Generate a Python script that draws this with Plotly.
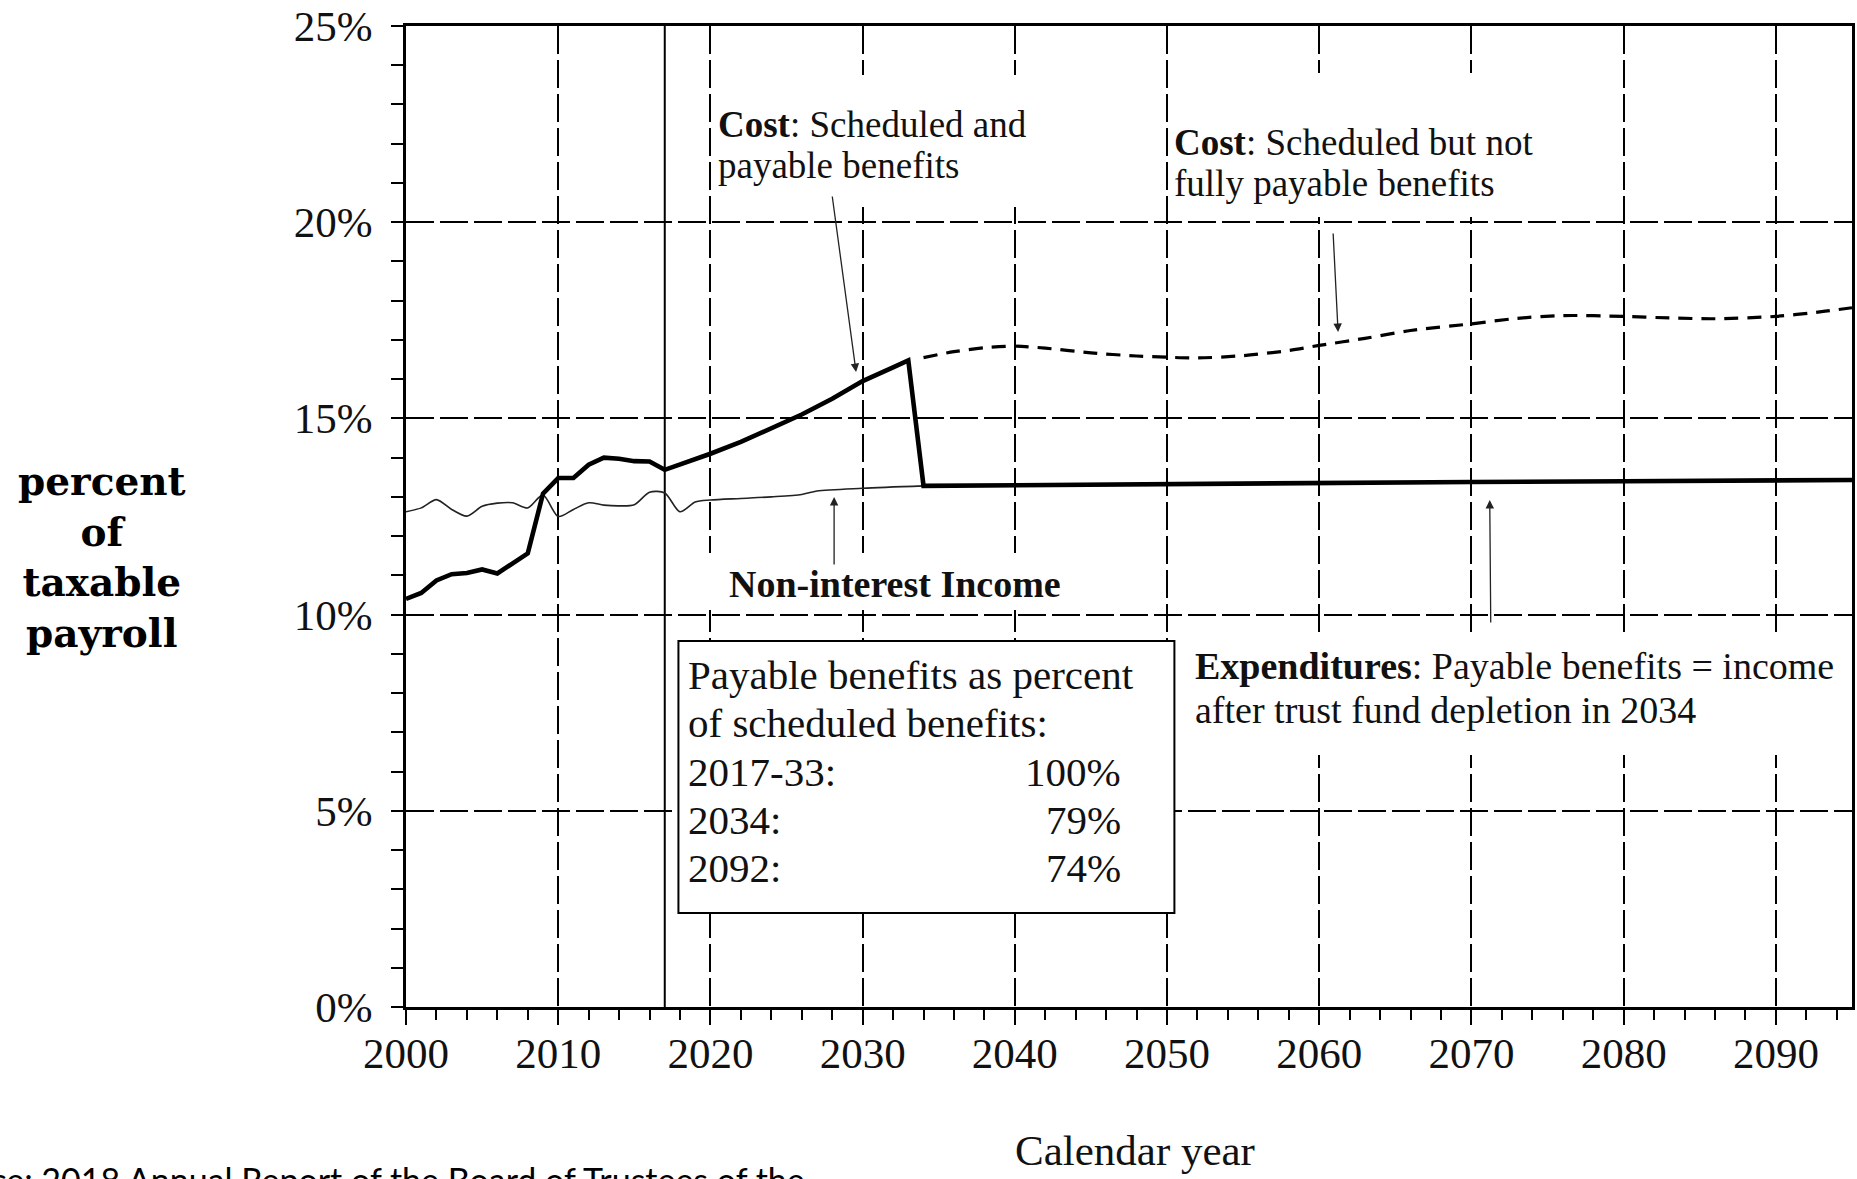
import plotly.graph_objects as go

# ---------------- data ----------------
exp_years = [2000, 2001, 2002, 2003, 2004, 2005, 2006, 2007, 2008, 2009,
             2010, 2011, 2012, 2013, 2014, 2015, 2016, 2017, 2018, 2019,
             2020, 2022, 2024, 2026, 2028, 2030, 2032, 2033, 2034,
             2040, 2050, 2060, 2070, 2080, 2090, 2095]
exp_values = [10.40, 10.55, 10.87, 11.03, 11.06, 11.15, 11.05, 11.30, 11.56, 13.08,
              13.48, 13.48, 13.82, 14.00, 13.97, 13.91, 13.90, 13.69, 13.82, 13.95,
              14.10, 14.40, 14.74, 15.10, 15.50, 15.95, 16.30, 16.48, 13.28,
              13.30, 13.32, 13.35, 13.38, 13.40, 13.42, 13.43]

income_years = [2000, 2001, 2002, 2003, 2004, 2005, 2006, 2007, 2008, 2009,
                2010, 2011, 2012, 2013, 2014, 2015, 2016, 2017, 2018, 2019,
                2020, 2022, 2024, 2026, 2027, 2030, 2034]
income_values = [12.62, 12.72, 12.93, 12.68, 12.51, 12.76, 12.84, 12.85, 12.72, 13.05,
                 12.50, 12.68, 12.85, 12.79, 12.77, 12.80, 13.12, 13.10, 12.62, 12.87,
                 12.92, 12.96, 13.00, 13.06, 13.15, 13.22, 13.28]

sched_years = [2034, 2036, 2038, 2040, 2042, 2045, 2048, 2050, 2052, 2055, 2058,
               2060, 2063, 2066, 2070, 2073, 2076, 2080, 2083, 2086, 2090, 2093, 2095]
sched_values = [16.55, 16.70, 16.80, 16.84, 16.79, 16.67, 16.59, 16.56, 16.54, 16.60, 16.73,
                16.86, 17.04, 17.24, 17.41, 17.55, 17.62, 17.60, 17.56, 17.54, 17.60, 17.72, 17.82]

x_tick_vals = [2000, 2010, 2020, 2030, 2040, 2050, 2060, 2070, 2080, 2090]
x_tick_text = ["2000", "2010", "2020", "2030", "2040", "2050", "2060", "2070", "2080", "2090"]
y_tick_vals = [0, 5, 10, 15, 20, 25]
y_tick_text = ["0%", "5%", "10%", "15%", "20%", "25%"]

box_labels = ["2017-33:", "2034:", "2092:"]
box_pcts = ["100%", "79%", "74%"]

# ---------------- layout geometry ----------------
W, H = 1857, 1179
PL, PR, PT, PB = 406, 1855, 26, 1007
X0, X1, Y0, Y1 = 2000, 2095, 0, 25


def X(px):
    return X0 + (px - PL) * (X1 - X0) / (PR - PL)


def Y(py):
    return Y0 + (PB - py) * (Y1 - Y0) / (PB - PT)


def PX(px):
    return (px - PL) / (PR - PL)


def PY(py):
    return (PB - py) / (PB - PT)


SERIF = "Liberation Serif, Times New Roman, serif"
INK = "#111111"

fig = go.Figure()

fig.add_trace(go.Scatter(x=sched_years, y=sched_values, mode="lines",
                         line=dict(color="black", width=3.2, dash="14px,9px", shape="spline", smoothing=0.8),
                         hoverinfo="skip", showlegend=False))
fig.add_trace(go.Scatter(x=income_years, y=income_values, mode="lines",
                         line=dict(color="#222222", width=1.6, shape="spline", smoothing=0.8),
                         hoverinfo="skip", showlegend=False))
fig.add_trace(go.Scatter(x=exp_years, y=exp_values, mode="lines",
                         line=dict(color="black", width=4.6),
                         hoverinfo="skip", showlegend=False))

shapes = []
# white backgrounds that interrupt the grid behind text
for (x0, y0, x1, y1) in [(713, 75, 1035, 207), (1170, 73, 1560, 217),
                         (705, 553, 1070, 610), (1180, 635, 1852, 755)]:
    shapes.append(dict(type="rect", xref="x", yref="y", x0=X(x0), x1=X(x1), y0=Y(y1), y1=Y(y0),
                       fillcolor="white", line=dict(width=0), layer="above"))
# vertical reference line at 2017
shapes.append(dict(type="line", xref="x", yref="y", x0=2017, x1=2017, y0=0, y1=25,
                   line=dict(color="black", width=2), layer="below"))
# the table box
shapes.append(dict(type="rect", xref="x", yref="y", x0=X(679), x1=X(1176), y0=Y(913), y1=Y(641),
                   fillcolor="white", line=dict(color="black", width=2), layer="above"))

ann = []


def txt(text, px, py, size, xanchor="left", bold=False, family=SERIF):
    ann.append(dict(text=("<b>%s</b>" % text) if bold else text, xref="paper", yref="paper",
                    x=PX(px), y=PY(py), xanchor=xanchor, yanchor="middle", showarrow=False,
                    font=dict(family=family, size=size, color=INK)))


txt("<b>Cost</b>: Scheduled and", 717, 124, 37)
txt("payable benefits", 717, 165, 37)
txt("<b>Cost</b>: Scheduled but not", 1174, 142, 37)
txt("fully payable benefits", 1174, 183, 37)
txt("Non-interest Income", 728, 584, 38, bold=True)
txt("<b>Expenditures</b>: Payable benefits = income", 1195, 666, 38)
txt("after trust fund depletion in 2034", 1195, 710, 38)

txt("Payable benefits as percent", 687, 675, 41)
txt("of scheduled benefits:", 687, 723, 41)
for i, (lab, pct) in enumerate(zip(box_labels, box_pcts)):
    ypx = 772 + i * 48
    txt(lab, 687, ypx, 41)
    txt(pct, 1124, ypx, 41, xanchor="right")

# arrows (head, tail offset in px)
for (hx, hy, tx, ty) in [(857, 372, 833, 195), (1340, 332, 1335, 232),
                         (835, 497, 835, 566), (1492, 500, 1493, 624)]:
    ann.append(dict(text="", xref="x", yref="y", x=X(hx), y=Y(hy), ax=tx - hx, ay=ty - hy,
                    showarrow=True, arrowhead=2, arrowsize=1.3, arrowwidth=1.3, arrowcolor="#222222"))

# axis titles
ann.append(dict(text="percent<br>of<br>taxable<br>payroll", xref="paper", yref="paper",
                x=PX(101), y=PY(557), xanchor="center", yanchor="middle", align="center",
                showarrow=False, font=dict(family="DejaVu Serif", size=39, color="black", weight="bold")))
txt("Calendar year", 1137, 1150, 43, xanchor="center")
# source line (cut off at the image edge)
ann.append(dict(text="Source: 2018 Annual Report of the Board of Trustees of the", xref="paper", yref="paper",
                x=PX(808), y=PY(1157), xanchor="right", yanchor="top", showarrow=False,
                font=dict(family="Lato, Open Sans, sans-serif", size=34, color="black")))

fig.update_layout(
    width=W, height=H,
    margin=dict(l=PL, r=W - PR, t=PT, b=H - PB, pad=0),
    paper_bgcolor="white", plot_bgcolor="white",
    shapes=shapes, annotations=ann,
    showlegend=False,
)

fig.update_xaxes(range=[X0, X1], tickmode="array", tickvals=x_tick_vals, ticktext=x_tick_text,
                 ticks="outside", ticklen=15, tickwidth=2, tickcolor="black",
                 ticklabelstandoff=-8,
                 tickfont=dict(family=SERIF, size=43, color=INK),
                 showline=True, linecolor="black", linewidth=2.5, mirror=True,
                 showgrid=True, gridcolor="black", gridwidth=2, griddash="28px,6px",
                 zeroline=False,
                 minor=dict(ticks="outside", ticklen=10, tickwidth=2, tickcolor="black",
                            dtick=2, tick0=2000, showgrid=False))
fig.update_yaxes(range=[Y0, Y1], tickmode="array", tickvals=y_tick_vals, ticktext=y_tick_text,
                 ticks="outside", ticklen=12, tickwidth=2, tickcolor="black",
                 ticklabelstandoff=10,
                 tickfont=dict(family=SERIF, size=43, color=INK),
                 showline=True, linecolor="black", linewidth=2.5, mirror=True,
                 showgrid=True, gridcolor="black", gridwidth=2, griddash="28px,6px",
                 zeroline=False,
                 minor=dict(ticks="outside", ticklen=12, tickwidth=2, tickcolor="black",
                            dtick=1, tick0=0, showgrid=False))

fig.write_html("out.html", config={"displayModeBar": False},
               post_script="document.body.style.margin='0';document.body.style.overflow='hidden';")
